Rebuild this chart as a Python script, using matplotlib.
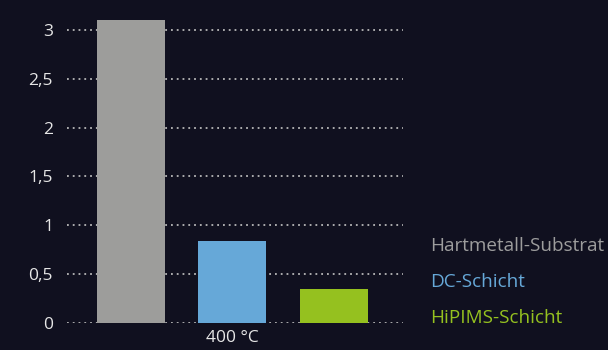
import matplotlib.pyplot as plt

# data
series = ['Hartmetall-Substrat', 'DC-Schicht', 'HiPIMS-Schicht']
values = [3.1, 0.84, 0.35]
colors = ['#9d9d9b', '#66a8d8', '#95c11f']
group_label = '400 °C'
yticks = [0, 0.5, 1, 1.5, 2, 2.5, 3]
ytick_labels = ['0', '0,5', '1', '1,5', '2', '2,5', '3']

bg = '#10101f'
plt.rcParams['font.family'] = ['Open Sans', 'DejaVu Sans']

fig = plt.figure(figsize=(6.08, 3.5), dpi=100, facecolor=bg)
ax = fig.add_axes([67 / 608, 1 - 323 / 350, 336 / 608, 303 / 350])
ax.set_facecolor(bg)

# gridlines behind the bars
for y in yticks:
    ax.axhline(y, color='#b8b8b8', linestyle=(0, (1, 2.2)), linewidth=1.3, zorder=0)

positions = range(len(values))
ax.bar(positions, values, width=0.67, color=colors, zorder=2)

ax.set_xlim(-0.63, 2.68)
ax.set_ylim(0, 3.1)
ax.set_yticks(yticks)
ax.set_yticklabels(ytick_labels, color='#e6e6e6', fontsize=12.5)
ax.set_xticks([1])
ax.set_xticklabels([group_label], color='#e6e6e6', fontsize=12.5)
ax.tick_params(axis='y', length=0, pad=10)
ax.tick_params(axis='x', length=0, pad=5)
for s in ax.spines.values():
    s.set_visible(False)

# legend as coloured text
legend_colors = ['#9d9d9d', '#66a8d8', '#95c11f']
for i, (name, c) in enumerate(zip(series, legend_colors)):
    fig.text(430 / 608, 1 - (246 + 36 * i) / 350, name, color=c, fontsize=13.6,
             va='center', ha='left')

fig.savefig('out.png', dpi=100, facecolor=bg)
